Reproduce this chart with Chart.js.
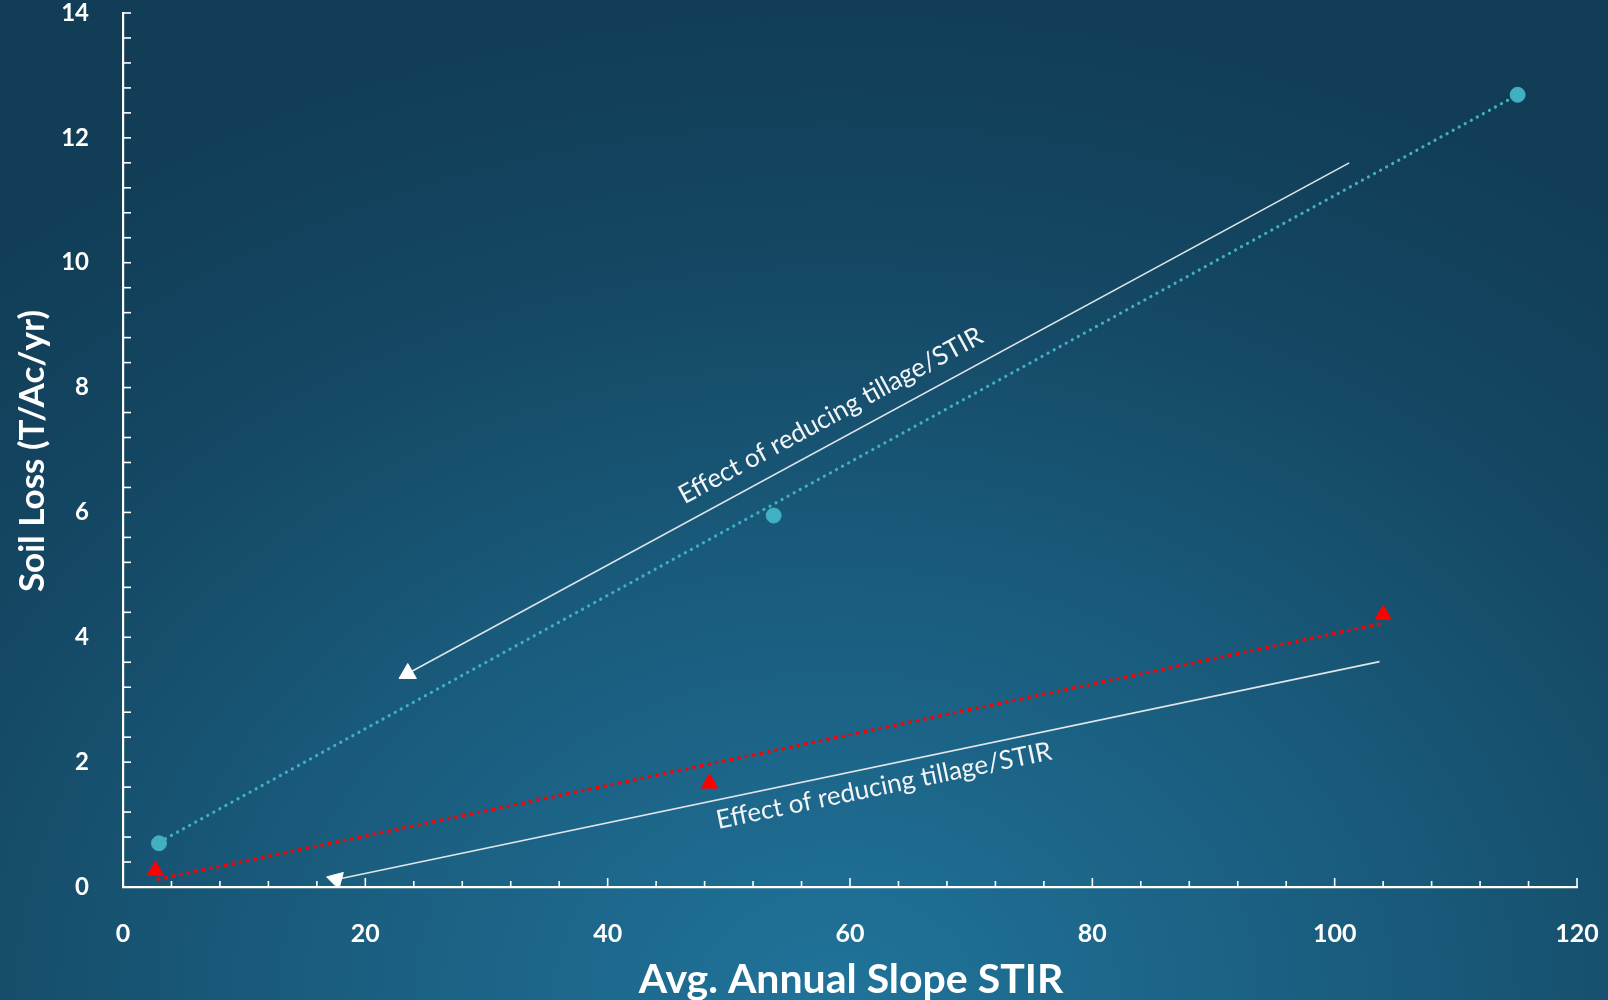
<!DOCTYPE html>
<html>
<head>
<meta charset="utf-8">
<script src="https://cdn.jsdelivr.net/npm/chart.js@4.4.1/dist/chart.umd.min.js"></script>
<style>
  html, body { margin: 0; padding: 0; }
  body {
    width: 1608px; height: 1000px; overflow: hidden;
    background: radial-gradient(ellipse 80% 100% at 52% 100%, #20739a 0%, #1a5d7e 40%, #144763 75%, #113d56 100%);
  }
  #wrap { width: 1608px; height: 1000px; position: relative; }
</style>
</head>
<body>
<div id="wrap"><canvas id="myChart"></canvas></div>
<script>
// teal circles (one tillage group)
const tealX = [2.97, 53.7, 115.1];
const tealY = [0.70, 5.95, 12.69];
// red triangles (other group)
const redX = [2.67, 48.4, 104.0];
const redY = [0.26, 1.66, 4.36];

// dotted trend lines, start/end
const tealTrendX = [3.0, 115.1];
const tealTrendY = [0.72, 12.69];
const redTrendX = [2.8, 103.9];
const redTrendY = [0.12, 4.22];

// white arrows: tail -> head
const arrowUpperX = [101.2, 23.5];
const arrowUpperY = [11.60, 3.42];
const arrowLowerX = [103.7, 17.6];
const arrowLowerY = [3.61, 0.12];

// annotation text along each arrow (centre in data units)
const annoLabels = ['Effect of reducing tillage/STIR', 'Effect of reducing tillage/STIR'];
const annoX = [58.4, 62.8];
const annoY = [7.55, 1.62];

const xTicks = [0, 20, 40, 60, 80, 100, 120];
const yTicks = [0, 2, 4, 6, 8, 10, 12, 14];
const xTitle = 'Avg. Annual Slope STIR';
const yTitle = 'Soil Loss (T/Ac/yr)';

const pts = (xs, ys) => xs.map((x, i) => ({ x, y: ys[i] }));

// minor/major ticks drawn inward + axis titles + rotated notes
const decor = {
  id: 'decor',
  afterDraw(chart) {
    const ctx = chart.ctx, sx = chart.scales.x, sy = chart.scales.y, a = chart.chartArea;
    ctx.save();
    ctx.strokeStyle = '#ffffff';
    ctx.lineWidth = 1.6;
    for (let i = 0; i <= 30; i++) {            // every 4 on x
      const px = sx.getPixelForValue(i * 4);
      const len = i % 5 === 0 ? 9 : 6;
      ctx.beginPath(); ctx.moveTo(px, a.bottom); ctx.lineTo(px, a.bottom - len); ctx.stroke();
    }
    for (let i = 0; i <= 35; i++) {            // every 0.4 on y
      const py = sy.getPixelForValue(i * 0.4);
      ctx.beginPath(); ctx.moveTo(a.left, py); ctx.lineTo(a.left + 8, py); ctx.stroke();
    }

    // arrows' notes
    const arrows = [[arrowUpperX, arrowUpperY], [arrowLowerX, arrowLowerY]];
    ctx.fillStyle = '#f2f4f5';
    ctx.font = '400 26px Lato';
    ctx.textAlign = 'center';
    ctx.textBaseline = 'middle';
    annoLabels.forEach((txt, i) => {
      const [ax, ay] = arrows[i];
      const ang = Math.atan2(sy.getPixelForValue(ay[0]) - sy.getPixelForValue(ay[1]),
                             sx.getPixelForValue(ax[0]) - sx.getPixelForValue(ax[1]));
      ctx.save();
      ctx.translate(sx.getPixelForValue(annoX[i]), sy.getPixelForValue(annoY[i]));
      ctx.rotate(ang);
      ctx.fillText(txt, 0, 0);
      ctx.restore();
    });

    // axis titles
    ctx.fillStyle = '#ffffff';
    ctx.font = '700 41px Lato';
    ctx.textBaseline = 'alphabetic';
    ctx.fillText(xTitle, 851, 993);
    ctx.save();
    ctx.translate(44, 451);
    ctx.rotate(-Math.PI / 2);
    ctx.font = '700 35px Lato';
    ctx.fillText(yTitle, 0, 0);
    ctx.restore();
    ctx.restore();
  }
};

const ctx = document.getElementById('myChart').getContext('2d');
new Chart(ctx, {
  type: 'scatter',
  data: {
    datasets: [
      {
        label: 'teal', data: pts(tealX, tealY), order: 0,
        pointStyle: 'circle', pointRadius: 7.5, backgroundColor: '#41b0c0', borderColor: '#41b0c0', borderWidth: 1
      },
      {
        label: 'red', data: pts(redX, redY), order: 0,
        pointStyle: 'triangle', pointRadius: 9.5, backgroundColor: '#ff0000', borderColor: '#ff0000', borderWidth: 1
      },
      {
        label: 'teal trend', data: pts(tealTrendX, tealTrendY), order: 1, showLine: true,
        pointRadius: 0, borderColor: '#41b0c0', borderWidth: 3.2, borderDash: [0.1, 6.8], borderCapStyle: 'round'
      },
      {
        label: 'red trend', data: pts(redTrendX, redTrendY), order: 1, showLine: true,
        pointRadius: 0, borderColor: '#ff0000', borderWidth: 3.2, borderDash: [3.4, 4.2]
      },
      {
        label: 'arrow upper', data: pts(arrowUpperX, arrowUpperY), order: 2, showLine: true,
        borderColor: '#dfe5e9', borderWidth: 1.6,
        pointStyle: 'triangle', pointRadius: [0, 10], pointRotation: [0, 0],
        backgroundColor: '#ffffff', pointBorderColor: '#ffffff', pointBorderWidth: 1
      },
      {
        label: 'arrow lower', data: pts(arrowLowerX, arrowLowerY), order: 2, showLine: true,
        borderColor: '#dfe5e9', borderWidth: 1.6,
        pointStyle: 'triangle', pointRadius: [0, 10], pointRotation: [0, 285],
        backgroundColor: '#ffffff', pointBorderColor: '#ffffff', pointBorderWidth: 1
      }
    ]
  },
  options: {
    responsive: true,
    maintainAspectRatio: false,
    animation: false,
    layout: { padding: { top: 13, right: 31, left: 0, bottom: 0 } },
    plugins: { legend: { display: false }, tooltip: { enabled: false } },
    scales: {
      x: {
        type: 'linear', min: 0, max: 120,
        afterBuildTicks: (s) => { s.ticks = xTicks.map(v => ({ value: v })); },
        afterFit: (s) => { s.height = 113; s.paddingLeft = 0; s.paddingRight = 0; },
        grid: { display: false },
        border: { display: true, color: '#ffffff', width: 2.2 },
        ticks: { color: '#ffffff', padding: 24, maxRotation: 0, font: { family: 'Lato', size: 25, weight: '700' } }
      },
      y: {
        type: 'linear', min: 0, max: 14,
        afterBuildTicks: (s) => { s.ticks = yTicks.map(v => ({ value: v })); },
        afterFit: (s) => { s.width = 123; s.paddingTop = 0; s.paddingBottom = 0; },
        grid: { display: false },
        border: { display: true, color: '#ffffff', width: 2.2 },
        ticks: { color: '#ffffff', padding: 26, font: { family: 'Lato', size: 24, weight: '700' } }
      }
    }
  },
  plugins: [decor]
});
</script>
</body>
</html>
